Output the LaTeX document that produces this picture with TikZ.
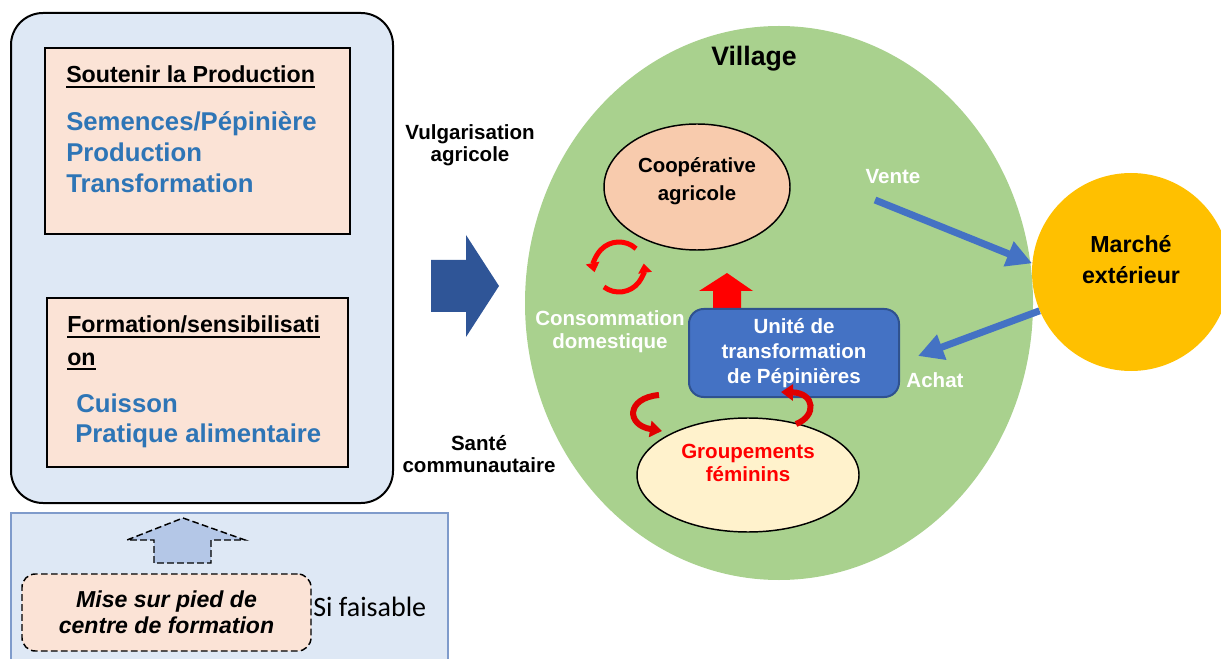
\documentclass[tikz,border=0pt]{standalone}
\usepackage{fontspec}
\setmainfont{Liberation Sans}
\newfontfamily\calfont{Carlito}
\usetikzlibrary{arrows.meta,positioning,shapes.geometric}
\definecolor{panelblue}{HTML}{DEE8F5}
\definecolor{peach}{HTML}{FBE3D6}
\definecolor{txtblue}{HTML}{2E75B6}
\definecolor{navy}{HTML}{2F5597}
\definecolor{villagegreen}{HTML}{A9D18E}
\definecolor{coopfill}{HTML}{F8CBAD}
\definecolor{grpfill}{HTML}{FFF2CC}
\definecolor{marchefill}{HTML}{FFC000}
\definecolor{unitblue}{HTML}{4472C4}
\definecolor{unitedge}{HTML}{2F528F}
\definecolor{arrowfill}{HTML}{B4C7E7}
\definecolor{frameblue}{HTML}{7F9BCB}

% underline at a fixed depth, whatever the letters
\newlength\ulwd
\newcommand\uln[1]{\settowidth\ulwd{#1}\rlap{\rule[-3.8pt]{\ulwd}{1.4pt}}#1}

\tikzset{
  bluetxt/.style={anchor=base west,text=txtblue,inner sep=0pt,
    font=\bfseries\fontsize{19.3}{23}\selectfont},
  headtxt/.style={anchor=base west,inner sep=0pt,
    font=\bfseries\fontsize{17.4}{21}\selectfont},
  lbl/.style={align=center,inner sep=0pt,
    font=\bfseries\fontsize{15.4}{16.5}\selectfont},
  whitelbl/.style={lbl,text=white},
  optional/.style={dash pattern=on 5pt off 2.5pt,line width=1.1pt},
  bigflow/.style={unitblue,line width=5.25pt,-{Triangle[length=19pt,width=19pt]}},
  loopred/.style={red,line width=3.75pt,-{Triangle[length=7pt,width=10pt]}},
  bendred/.style={red!88!black,line width=4.5pt,-{Triangle[length=9pt,width=12pt]}},
}

\begin{document}
\begin{tikzpicture}[x=0.75pt,y=-0.75pt]
  % 1 unit = 1 px, y pointing down
  \useasboundingbox (0,0) rectangle (1221,659);

  % --- Left panel ---
  \draw[fill=panelblue,line width=1.5pt,rounded corners=24pt] (11,13) rectangle (393,503);
  \draw[fill=peach,line width=0.9pt] (45,48) rectangle (350,234);
  \node[headtxt] (prodtitle) at (66,83) {\uln{Soutenir la Production}};
  \foreach \t [count=\i] in {Semences/Pépinière,Production,Transformation}
    \node[bluetxt] (prod\i) at (66,100+31*\i) {\t};
  \draw[fill=peach,line width=0.9pt] (47,298) rectangle (348,467);
  \node[headtxt] (formtitle) at (67,333) {\uln{Formation/sensibilisati}};
  \node[headtxt] (formtitleb) at (67,365) {\uln{on}};
  \node[bluetxt] (form1) at (76,412) {Cuisson};
  \node[bluetxt] (form2) at (75,442) {Pratique alimentaire};

  % --- Bottom panel ---
  \draw[fill=panelblue,draw=frameblue,line width=0.9pt] (11,513) rectangle (448,670);
  \draw[fill=arrowfill,optional]
    (183,518) -- (245,540) -- (211,540) -- (211,563) -- (154,563)
    -- (154,540) -- (127,540) -- cycle;
  \node[draw,optional,fill=peach,rounded corners=10pt,
    minimum width=216.75pt,minimum height=57.75pt,align=center,
    font=\bfseries\itshape\fontsize{17.3}{19.5}\selectfont]
    (centre) at (166.5,612.5) {Mise sur pied de\\centre de formation};
  \node[anchor=base west,inner sep=0pt,font=\calfont\fontsize{21}{24}\selectfont]
    (faisable) at (313,616) {Si faisable};

  % --- Side labels and main arrow ---
  \node[lbl] (vulga) at (470,145) {Vulgarisation\\agricole};
  \node[lbl] (sante) at (479,454) {Santé\\communautaire};
  \fill[navy] (431,260) -- (466,260) -- (466,235) -- (499,286)
    -- (466,337) -- (466,312) -- (431,312) -- cycle;

  % --- Village ---
  \node[ellipse,fill=villagegreen,inner sep=0pt,
    minimum width=381pt,minimum height=415.5pt] (village) at (779,303) {};
  \node[inner sep=0pt,font=\bfseries\fontsize{20}{24}\selectfont]
    (villagetitle) at (754,59) {Village};

  \node[ellipse,draw,fill=coopfill,line width=1.1pt,
    minimum width=139.5pt,minimum height=94.5pt] (coop) at (697,187) {};
  \node[lbl,font=\bfseries\fontsize{15.3}{21}\selectfont] (cooptxt) at (697,181)
    {Coopérative\\agricole};

  % consumption loop
  \coordinate (loopc) at (619,267);
  \draw[loopred] (loopc) ++(-47:25) arc[start angle=-47,end angle=-192,radius=25];
  \draw[loopred] (loopc) ++(-233:25) arc[start angle=-233,end angle=-368,radius=25];
  \node[whitelbl,font=\bfseries\fontsize{15.4}{17.25}\selectfont] (conso) at (610,332)
    {Consommation\\domestique};

  % processing unit
  \fill[red] (727,273) -- (753,291) -- (741,291) -- (741,310) -- (713,310)
    -- (713,291) -- (699,291) -- cycle;
  \node[draw=unitedge,fill=unitblue,rounded corners=11pt,line width=1.5pt,
    minimum width=157.5pt,minimum height=66pt,whitelbl,
    font=\bfseries\fontsize{15.4}{18.75}\selectfont]
    (unite) at (794,353) {Unité de\\transformation\\de Pépinières};

  % women's groups
  \node[ellipse,draw,fill=grpfill,line width=1.1pt,
    minimum width=166.5pt,minimum height=85.5pt] (grp) at (748,475) {};
  \node[lbl,text=red,font=\bfseries\fontsize{15.4}{17.25}\selectfont] (grptxt)
    at (748,463) {Groupements\\féminins};
  \coordinate (grpin) at (662,431);
  \coordinate (grpout) at (796,424);
  \coordinate (uniteout) at (659,395);
  \coordinate (unitein) at (781,392);
  \draw[bendred] (uniteout) .. controls (626,398) and (626,425) .. (grpin);
  \draw[bendred] (grpout) .. controls (817,416) and (815,393) .. (unitein);

  % --- Outside market ---
  \node[circle,fill=marchefill,minimum size=148.5pt] (marche) at (1131,272) {};
  \node[lbl,font=\bfseries\fontsize{17.4}{23.25}\selectfont] (marchetxt)
    at (1131,260) {Marché\\extérieur};
  \coordinate (ventefrom) at (875,200);
  \coordinate (achattip) at (918,356);
  \draw[bigflow] (ventefrom) -- (marche.175);
  \draw[bigflow] (marche.203) -- (achattip);
  \node[whitelbl] (vente) at (893,177) {Vente};
  \node[whitelbl] (achat) at (935,380) {Achat};
\end{tikzpicture}
\end{document}
